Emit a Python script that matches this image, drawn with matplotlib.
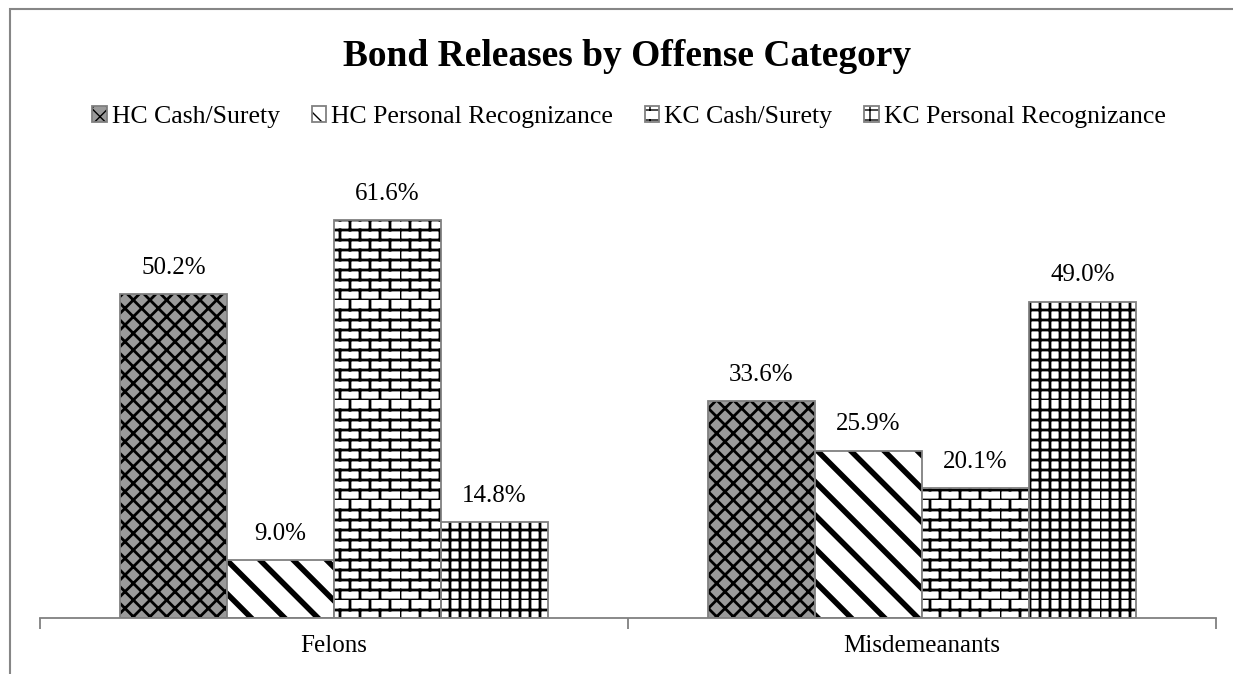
import warnings
import matplotlib
matplotlib.use("Agg")
import matplotlib.pyplot as plt
import numpy as np
from matplotlib import hatch as mhatch
from matplotlib.patches import Rectangle, Patch
from matplotlib.path import Path

warnings.filterwarnings("ignore", message="hatch must consist")

categories = ["Felons", "Misdemeanants"]
series = ["HC Cash/Surety", "HC Personal Recognizance", "KC Cash/Surety", "KC Personal Recognizance"]
hc_cash = [50.2, 33.6]
hc_pr = [9.0, 25.9]
kc_cash = [61.6, 20.1]
kc_pr = [14.8, 49.0]


# running-bond brick pattern, 'b' in a hatch string
class BrickHatch(mhatch.HatchPatternBase):
    def __init__(self, hatch, density):
        self.rows = 10 if "b" in hatch else 0
        self.cols = 5
        self.num_vertices = self.rows * 2 + self.rows * self.cols * 2

    def set_vertices_and_codes(self, vertices, codes):
        v = []
        for r in range(self.rows):
            y0 = r / self.rows
            y1 = (r + 1) / self.rows
            v += [(0, y0), (1, y0)]
            shift = 0.5 / self.cols if r % 2 else 0.0
            for c in range(self.cols):
                x = c / self.cols + shift
                v += [(x, y0), (x, y1)]
        vertices[:] = v
        codes[0::2] = Path.MOVETO
        codes[1::2] = Path.LINETO


# square grid, 'g' in a hatch string
class GridHatch(mhatch.HatchPatternBase):
    def __init__(self, hatch, density):
        self.n = 10 if "g" in hatch else 0
        self.num_vertices = self.n * 4

    def set_vertices_and_codes(self, vertices, codes):
        v = []
        for k in range(self.n):
            t = k / self.n
            v += [(0, t), (1, t), (t, 0), (t, 1)]
        vertices[:] = v
        codes[0::2] = Path.MOVETO
        codes[1::2] = Path.LINETO


mhatch._hatch_types += [BrickHatch, GridHatch]

plt.rcParams["font.family"] = ["Liberation Serif", "DejaVu Serif"]

# face, hatch, hatch colour, hatch width
styles = [
    ("#9a9a9a", "xx", "black", 2.0),
    ("white", "\\", "black", 4.0),
    ("white", "b", "black", 2.0),
    ("white", "g", "black", 2.0),
]

fig = plt.figure(figsize=(12.33, 6.74), dpi=100)
ax = fig.add_axes([40 / 1233, 56 / 674, 1176 / 1233, 452 / 674])

x = np.arange(len(categories))
width = 0.182
values = [hc_cash, hc_pr, kc_cash, kc_pr]
handles = []
for i, (vals, (fc, h, hc, hlw)) in enumerate(zip(values, styles)):
    pos = x + (i - 1.5) * width
    bars = ax.bar(pos, vals, width, color=fc, edgecolor=hc, hatch=h, linewidth=0)
    for b in bars:
        if hasattr(b, "set_hatch_linewidth"):
            b.set_hatch_linewidth(hlw)
    ax.bar(pos, vals, width, fill=False, edgecolor="#808080", linewidth=1.3)
    for p, v in zip(pos, vals):
        ax.annotate(f"{v:.1f}%", (p, v), xytext=(0, 11), textcoords="offset points",
                    ha="center", va="bottom", fontsize=18)
    hp = Patch(facecolor=fc, edgecolor=hc, hatch=h, linewidth=0)
    if hasattr(hp, "set_hatch_linewidth"):
        hp.set_hatch_linewidth(min(hlw, 1.5))
    outline = Patch(fill=False, edgecolor="#808080", linewidth=1.3)
    handles.append((hp, outline))

ax.set_xlim(-0.5, 1.5)
ax.set_ylim(0, 70)
ax.set_yticks([])
ax.set_xticks([-0.5, 0.5, 1.5])
ax.set_xticklabels([])
ax.tick_params(axis="x", which="major", length=8, color="#808080", width=1.3)
ax.set_xticks(x, minor=True)
ax.set_xticklabels(categories, minor=True, fontsize=18)
ax.tick_params(axis="x", which="minor", length=0, pad=12)
for s in ["top", "right", "left"]:
    ax.spines[s].set_visible(False)
ax.spines["bottom"].set_color("#808080")
ax.spines["bottom"].set_linewidth(1.3)

fig.text(627 / 1233, 1 - 56 / 674, "Bond Releases by Offense Category",
         ha="center", va="center", fontsize=27, fontweight="bold")
fig.legend(handles, series, loc="center", bbox_to_anchor=(629 / 1233, 1 - 117 / 674),
           ncol=4, frameon=False, fontsize=18.5, handlelength=0.55, handleheight=0.55,
           handletextpad=0.2, columnspacing=1.25)

# chart area border
fig.patches.append(Rectangle((10 / 1233, -0.1), 1.2, 1.1 - 9 / 674, transform=fig.transFigure,
                             fill=False, edgecolor="#868686", linewidth=1.5))

fig.savefig("out.png", dpi=100)
